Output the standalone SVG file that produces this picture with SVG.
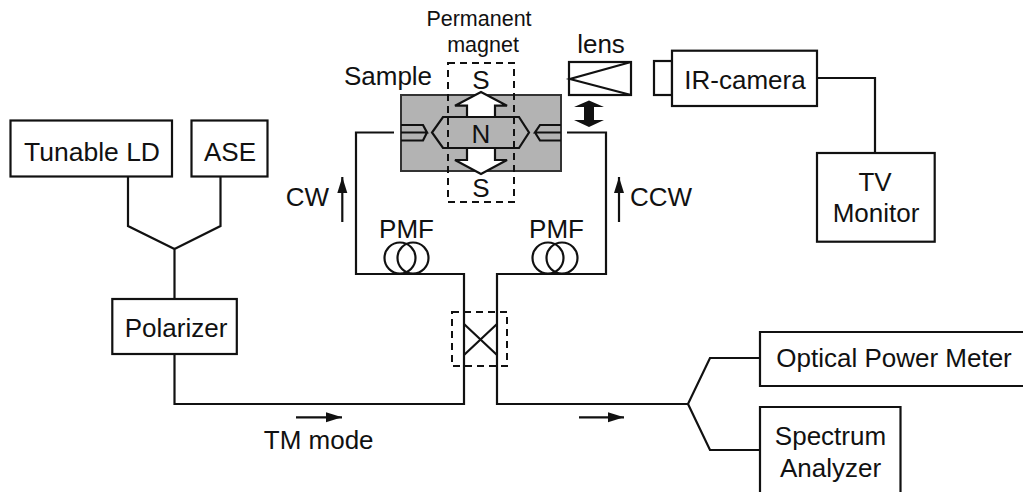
<svg xmlns="http://www.w3.org/2000/svg" width="1023" height="492" viewBox="0 0 1023 492">
<style>
text{font-family:"Liberation Sans",Arial,sans-serif;font-size:26px;fill:#111;text-anchor:middle}
.b{fill:#fff;stroke:#111;stroke-width:2.200}
.l{fill:none;stroke:#111;stroke-width:2.200}
.d{fill:none;stroke:#111;stroke-width:2;stroke-dasharray:7 5}
</style>
<defs>
<marker id="ah" markerUnits="userSpaceOnUse" markerWidth="18" markerHeight="12" refX="16" refY="5" orient="auto"><path d="M0 0L16 5L0 10Z" fill="#111"/></marker>
</defs>
<rect width="1023" height="492" fill="#fff"/>
<g id="connectors">
<path class="l" d="M128 177V226L174.500 249L220.500 226V177M174.500 249V299"/>
<path class="l" d="M174.500 354V404H464V274H356V132.500H394"/>
<path class="l" d="M567 132.500H606V274H497V404H688L710 358H760M688 404L710 450H760"/>
<path class="l" d="M817 78H875V153"/>
<path class="l" d="M464 324L497 355M497 324L464 355"/>
<path class="l" d="M342.300 222V177" marker-end="url(#ah)"/>
<path class="l" d="M619 222V177" marker-end="url(#ah)"/>
<path class="l" d="M296 417.300H342" marker-end="url(#ah)"/>
<path class="l" d="M579 417.300H624" marker-end="url(#ah)"/>
</g>
<g id="tunable-ld"><rect class="b" x="10.500" y="120.500" width="161.500" height="56"/><text x="92" y="160.500" style="font-size:26.500px">Tunable LD</text></g>
<g id="ase"><rect class="b" x="191.500" y="120.500" width="76" height="56"/><text x="230" y="160.500">ASE</text></g>
<g id="polarizer"><rect class="b" x="112.300" y="299" width="124.500" height="55"/><text x="176" y="336.500">Polarizer</text></g>
<g id="sample">
<rect x="401" y="95" width="160" height="76" fill="#b3b3b3" stroke="#333" stroke-width="2"/>
<path class="l" d="M401 125H423L427 132.500H401M401 140.500H423L427 132.500"/>
<path class="l" d="M561 125H540L535 132.500H561M561 140.500H540L535 132.500"/>
<path class="l" d="M467 117H443L432 132.500L443 148H467M495 117H519L529 132.500L519 148H495"/>
<path class="b" d="M467 117V105.700H455L481 92L507 105.700H495V117Z"/>
<path class="b" d="M467 148V160H455L481 174L507 160H495V148Z"/>
<text x="481" y="143">N</text>
</g>
<g id="magnet">
<rect class="d" x="448" y="63" width="66" height="139"/>
<text x="481" y="89">S</text>
<text x="481" y="197">S</text>
<text x="479" y="25.500" style="font-size:21.500px">Permanent</text>
<text x="483" y="52" style="font-size:21.500px">magnet</text>
</g>
<text x="388" y="84.500">Sample</text>
<g id="lens">
<rect class="b" x="569" y="62" width="62" height="33"/>
<path class="l" d="M631 62L570 79L631 95"/>
<text x="601" y="52.500">lens</text>
</g>
<path id="lens-move" d="M589 100.500L604 107H594V120H604L589 127L574 120H584V107H574Z" fill="#111"/>
<g id="ir-camera">
<rect class="b" x="654" y="61" width="18" height="34"/>
<rect class="b" x="672" y="50.700" width="145" height="55.300"/>
<text x="745" y="89">IR-camera</text>
</g>
<g id="tv-monitor"><rect class="b" x="817" y="153" width="117.700" height="88.700"/><text x="875" y="190.700">TV</text><text x="876" y="221.700">Monitor</text></g>
<g id="coupler"><rect class="d" x="452" y="312" width="55" height="54"/></g>
<g id="pmf-left"><circle class="l" cx="400" cy="258" r="15.500"/><circle class="l" cx="413" cy="258" r="15.500"/><text x="406.500" y="238">PMF</text></g>
<g id="pmf-right"><circle class="l" cx="548" cy="258" r="15.500"/><circle class="l" cx="562" cy="258" r="15.500"/><text x="556.500" y="238">PMF</text></g>
<text x="307.500" y="205.700">CW</text>
<text x="661" y="205.700">CCW</text>
<text x="318.700" y="449">TM mode</text>
<g id="optical-power-meter"><path class="b" d="M1024 332H760V386H1024"/><text x="894" y="367">Optical Power Meter</text></g>
<g id="spectrum-analyzer"><path class="b" d="M760 493V407H900.500V493"/><text x="830.500" y="444.500">Spectrum</text><text x="830.500" y="476.500">Analyzer</text></g>
</svg>
